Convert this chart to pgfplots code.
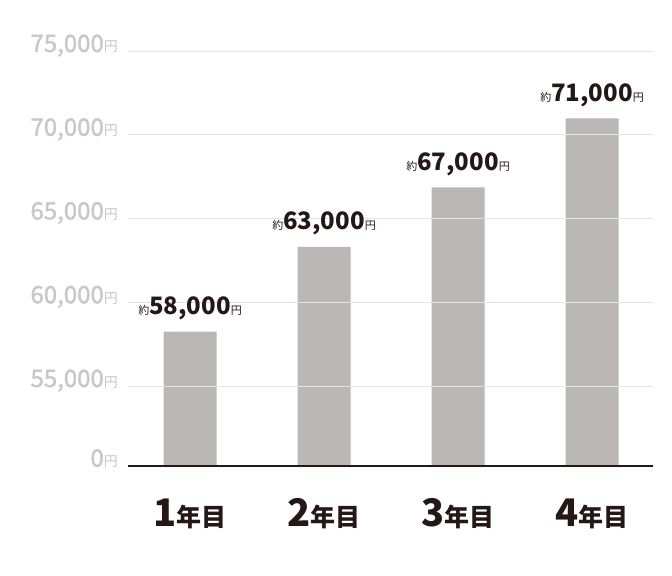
\documentclass[border=0pt]{standalone}
\usepackage{pgfplots}
\pgfplotsset{compat=1.18}
\usepackage{pgfplotstable}
\usepackage{fontspec}
\setmainfont{Noto Sans CJK JP}
\newfontfamily\medfont{Noto Sans CJK JP}[FakeBold=1.6]
\definecolor{barc}{HTML}{BAB7B6}
\definecolor{tickc}{HTML}{C8C8C8}
\definecolor{ink}{HTML}{231815}
\definecolor{gridc}{HTML}{E4E4E4}
\newcommand{\yen}[1]{{\fontsize{24bp}{24bp}\selectfont\medfont #1}{\fontsize{14bp}{14bp}\selectfont 円}}
\newcommand{\nen}[1]{{\fontsize{38bp}{38bp}\selectfont\bfseries #1}{\fontsize{25bp}{25bp}\selectfont\bfseries 年目}}
\pgfplotstableread{
x y lab
1 58240 58,000
2 63300 63,000
3 66860 67,000
4 70980 71,000
}\salary
\begin{document}
\begin{tikzpicture}
\path[use as bounding box] (0,0) rectangle (672bp,576bp);
\begin{axis}[
  scale only axis, width=525bp, height=414.7bp,
  at={(128bp,110.3bp)}, anchor=south west,
  ymin=50242, ymax=75000,
  xmin=0.537, xmax=4.455,
  ybar, bar width=53bp,
  axis x line=bottom, axis y line=left,
  x axis line style={draw=ink, line width=2.2bp, -},
  y axis line style={draw=none},
  major tick length=0pt,
  scaled y ticks=false,
  ymajorgrids, grid style={draw=gridc, line width=0.8bp},
  ytick={50242,55000,60000,65000,70000,75000},
  yticklabels={\yen{0},\yen{55,000},\yen{60,000},\yen{65,000},\yen{70,000},\yen{75,000}},
  yticklabel style={text=tickc, anchor=base east, inner sep=0pt, xshift=-10bp, yshift=-1bp},
  xtick={1,2,3,4},
  xticklabels={\nen{1},\nen{2},\nen{3},\nen{4}},
  xticklabel style={text=ink, anchor=base, inner sep=0pt, yshift=-61bp},
  point meta=explicit symbolic,
  nodes near coords={{\fontsize{11bp}{11bp}\selectfont 約}{\fontsize{24bp}{24bp}\selectfont\bfseries\pgfplotspointmeta}{\fontsize{11bp}{11bp}\selectfont 円}},
  nodes near coords style={text=ink, anchor=base, inner sep=0pt, yshift=17bp},
  axis on top,
]
\addplot[fill=barc, draw=none] table[x=x, y=y, meta=lab] {\salary};
\end{axis}
\end{tikzpicture}
\end{document}
